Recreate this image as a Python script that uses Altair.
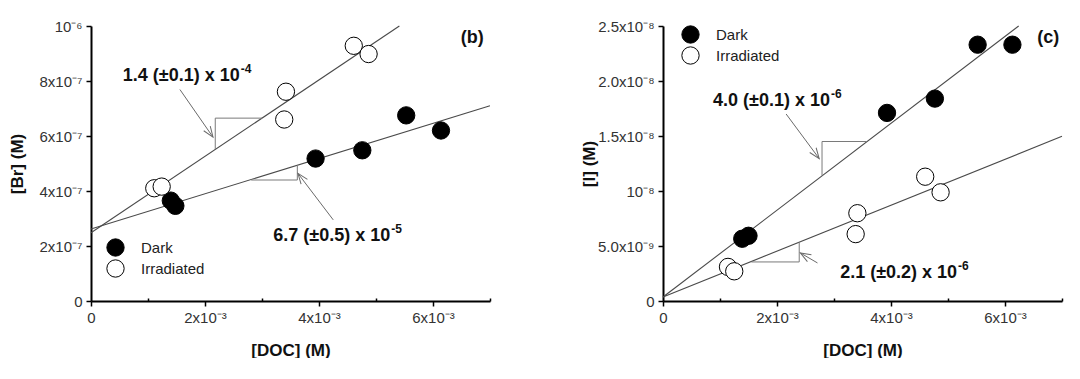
import math
import altair as alt
import pandas as pd

# ---------------- data ----------------
series_names = ["Dark", "Irradiated"]

# Panel (b): bromide
br_dark_x = [1.40e-3, 1.48e-3, 3.94e-3, 4.76e-3, 5.53e-3, 6.14e-3]
br_dark_y = [3.65e-7, 3.46e-7, 5.18e-7, 5.48e-7, 6.75e-7, 6.20e-7]
br_irr_x = [1.11e-3, 1.24e-3, 3.39e-3, 3.42e-3, 4.61e-3, 4.87e-3]
br_irr_y = [4.10e-7, 4.16e-7, 6.60e-7, 7.61e-7, 9.28e-7, 8.98e-7]
br_fit_dark = [(0.0, 2.62e-7), (7.0e-3, 7.10e-7)]
br_fit_irr = [(0.0, 2.48e-7), (5.41e-3, 1.0e-6)]
br_tri_irr = [(2.18e-3, 5.52e-7), (2.18e-3, 6.65e-7), (3.00e-3, 6.65e-7)]
br_tri_dark = [(2.81e-3, 4.40e-7), (3.62e-3, 4.40e-7), (3.62e-3, 4.94e-7)]
br_arrows = [((1.56e-3, 7.69e-7), (2.14e-3, 5.96e-7)),
             ((4.25e-3, 2.95e-7), (3.63e-3, 4.64e-7))]
br_slope_text = ["1.4 (±0.1) x 10", "6.7 (±0.5) x 10"]
br_slope_exp = ["-4", "-5"]
br_slope_xy = [(2.61e-3, 8.18e-7), (5.25e-3, 2.36e-7)]
br_panel_label = "(b)"
br_panel_xy = (6.69e-3, 9.58e-7)

# Panel (c): iodide
i_dark_x = [1.39e-3, 1.50e-3, 3.93e-3, 4.77e-3, 5.52e-3, 6.13e-3]
i_dark_y = [5.66e-9, 5.93e-9, 17.1e-9, 18.4e-9, 23.3e-9, 23.3e-9]
i_irr_x = [1.14e-3, 1.25e-3, 3.38e-3, 3.41e-3, 4.60e-3, 4.87e-3]
i_irr_y = [3.10e-9, 2.70e-9, 6.08e-9, 7.98e-9, 11.3e-9, 9.88e-9]
i_fit_dark = [(0.0, 0.36e-9), (6.24e-3, 25.0e-9)]
i_fit_irr = [(0.0, 0.36e-9), (7.0e-3, 14.97e-9)]
i_tri_dark = [(2.79e-3, 11.4e-9), (2.79e-3, 14.5e-9), (3.58e-3, 14.5e-9)]
i_tri_irr = [(1.55e-3, 3.55e-9), (2.39e-3, 3.55e-9), (2.39e-3, 5.35e-9)]
i_arrows = [((2.16e-3, 17.0e-9), (2.74e-3, 12.95e-9)),
            ((2.71e-3, 3.46e-9), (2.41e-3, 4.37e-9))]
i_slope_text = ["4.0 (±0.1) x 10", "2.1 (±0.2) x 10"]
i_slope_exp = ["-6", "-6"]
i_slope_xy = [(2.93e-3, 18.2e-9), (5.16e-3, 2.56e-9)]
i_panel_label = "(c)"
i_panel_xy = (6.76e-3, 23.9e-9)

# axes
x_domain = [0, 7e-3]
x_major = [0, 2e-3, 4e-3, 6e-3]
x_minor = [1e-3, 3e-3, 5e-3, 7e-3]
x_labels = ["0", "2x10⁻³", "4x10⁻³", "6x10⁻³"]

br_y_domain = [0, 1e-6]
br_y_major = [0, 2e-7, 4e-7, 6e-7, 8e-7, 1e-6]
br_y_minor = [1e-7, 3e-7, 5e-7, 7e-7, 9e-7]
br_y_labels = ["0", "2x10⁻⁷", "4x10⁻⁷", "6x10⁻⁷", "8x10⁻⁷", "10⁻⁶"]

i_y_domain = [0, 2.5e-8]
i_y_major = [0, 5e-9, 1e-8, 1.5e-8, 2e-8, 2.5e-8]
i_y_minor = [2.5e-9, 7.5e-9, 1.25e-8, 1.75e-8, 2.25e-8]
i_y_labels = ["0", "5.0x10⁻⁹", "10⁻⁸", "1.5x10⁻⁸", "2.0x10⁻⁸", "2.5x10⁻⁸"]

# ---------------- style ----------------
W, H = 399, 275
FONT = "Liberation Sans"
LINE_C = "#4a4a4a"
TRI_C = "#7a7a7a"
ARROW_C = "#6a6a6a"


def label_expr(values, labels, span):
    eps = span * 1e-6
    expr = "''"
    for v, l in reversed(list(zip(values, labels))):
        expr = f"abs(datum.value - ({v!r})) < {eps!r} ? '{l}' : ({expr})"
    return expr


def tick_size_expr(values, span):
    eps = span * 1e-6
    conds = " || ".join(f"abs(datum.value - ({v!r})) < {eps!r}" for v in values)
    return f"({conds}) ? 5 : -3"


def make_panel(dx, dy, ix, iy, fit_d, fit_i, tris, arrows, slope_text, slope_exp,
               slope_xy, panel_label, panel_xy,
               y_domain, y_major, y_minor, y_labels, y_title, legend_xy):
    xspan = x_domain[1] - x_domain[0]
    yspan = y_domain[1] - y_domain[0]
    xs = alt.Scale(domain=x_domain, nice=False, zero=False)
    ys = alt.Scale(domain=y_domain, nice=False, zero=False)

    x_axis = alt.Axis(
        values=sorted(x_major + x_minor),
        labelExpr=label_expr(x_major, x_labels, xspan),
        tickSize={"expr": tick_size_expr(x_major, xspan)},
        title="[DOC] (M)", titlePadding=17, labelPadding=4,
        labelFlush=False, labelOverlap=False,
    )
    y_axis = alt.Axis(
        values=sorted(y_major + y_minor),
        labelExpr=label_expr(y_major, y_labels, yspan),
        tickSize={"expr": tick_size_expr(y_major, yspan)},
        title=y_title, titleX=-65, titleY=H / 2, labelPadding=4,
        labelFlush=False, labelOverlap=False,
    )
    X = alt.X("x:Q", scale=xs, axis=x_axis)
    Y = alt.Y("y:Q", scale=ys, axis=y_axis)
    Xn = alt.X("x:Q", scale=xs)
    Yn = alt.Y("y:Q", scale=ys)

    # fit lines
    fit_rows = []
    for name, pts in zip(series_names, [fit_d, fit_i]):
        for k, (x, y) in enumerate(pts):
            fit_rows.append({"x": x, "y": y, "s": name, "o": k})
    fits = alt.Chart(pd.DataFrame(fit_rows)).mark_line(
        color=LINE_C, strokeWidth=1.1).encode(X, Y, detail="s:N", order="o:Q")

    # slope triangles
    tri_rows = []
    for t, pts in enumerate(tris):
        for k, (x, y) in enumerate(pts):
            tri_rows.append({"x": x, "y": y, "t": t, "o": k})
    tri = alt.Chart(pd.DataFrame(tri_rows)).mark_line(
        color=TRI_C, strokeWidth=1).encode(Xn, Yn, detail="t:N", order="o:Q")

    # arrows
    arr_rows, head_rows = [], []
    for a, (tail, tip) in enumerate(arrows):
        arr_rows.append({"x": tail[0], "y": tail[1], "a": a, "o": 0})
        arr_rows.append({"x": tip[0], "y": tip[1], "a": a, "o": 1})
        px = (tip[0] - tail[0]) / xspan * W
        py = -(tip[1] - tail[1]) / yspan * H
        ang = (math.degrees(math.atan2(py, px)) + 90) % 360
        head_rows.append({"x": tip[0], "y": tip[1], "ang": ang})
    shafts = alt.Chart(pd.DataFrame(arr_rows)).mark_line(
        color=ARROW_C, strokeWidth=1).encode(Xn, Yn, detail="a:N", order="o:Q")
    heads = alt.Chart(pd.DataFrame(head_rows)).mark_point(
        shape="M-0.38,1L0,0L0.38,1", filled=False, size=440,
        stroke=ARROW_C, strokeWidth=1, opacity=1,
    ).encode(Xn, Yn, angle=alt.Angle("ang:Q", scale=None))

    # data points
    pts_rows = []
    for x, y in zip(dx, dy):
        pts_rows.append({"x": x, "y": y, "series": "Dark"})
    for x, y in zip(ix, iy):
        pts_rows.append({"x": x, "y": y, "series": "Irradiated"})
    points = alt.Chart(pd.DataFrame(pts_rows)).mark_point(
        filled=True, size=300, stroke="black", strokeWidth=1, opacity=1,
        shape="circle",
    ).encode(
        Xn, Yn,
        fill=alt.Fill("series:N",
                      scale=alt.Scale(domain=series_names, range=["black", "white"]),
                      legend=alt.Legend(
                          title=None, orient="none",
                          legendX=legend_xy[0], legendY=legend_xy[1],
                          symbolType="circle", symbolSize=300,
                          symbolStrokeColor="black", symbolStrokeWidth=1,
                          labelFont=FONT, labelFontSize=15, labelColor="#222",
                          labelOffset=16, rowPadding=-2, padding=0,
                      )),
    )

    # slope annotations: base text ends at anchor, exponent starts there
    txt_rows = [{"x": p[0], "y": p[1], "t": t, "e": e}
                for t, e, p in zip(slope_text, slope_exp, slope_xy)]
    tdf = pd.DataFrame(txt_rows)
    base_txt = alt.Chart(tdf).mark_text(
        font=FONT, fontSize=18, fontWeight="bold", color="#111",
        align="right", baseline="middle",
    ).encode(Xn, Yn, text="t:N")
    exp_txt = alt.Chart(tdf).mark_text(
        font=FONT, fontSize=12, fontWeight="bold", color="#111",
        align="left", baseline="middle", dx=1, dy=-7,
    ).encode(Xn, Yn, text="e:N")
    plabel = alt.Chart(pd.DataFrame([{"x": panel_xy[0], "y": panel_xy[1],
                                      "t": panel_label}])).mark_text(
        font=FONT, fontSize=18, fontWeight="bold", color="#111",
        align="center", baseline="middle",
    ).encode(Xn, Yn, text="t:N")

    base = alt.Chart(pd.DataFrame(fit_rows)).mark_line(opacity=0).encode(X, Y)
    return alt.layer(base, fits, tri, shafts, heads, points, base_txt, exp_txt,
                     plabel).properties(width=W, height=H)


left = make_panel(br_dark_x, br_dark_y, br_irr_x, br_irr_y, br_fit_dark, br_fit_irr,
                  [br_tri_irr, br_tri_dark], br_arrows, br_slope_text, br_slope_exp,
                  br_slope_xy, br_panel_label, br_panel_xy,
                  br_y_domain, br_y_major, br_y_minor, br_y_labels, "[Br] (M)",
                  (15, 212))
right = make_panel(i_dark_x, i_dark_y, i_irr_x, i_irr_y, i_fit_dark, i_fit_irr,
                   [i_tri_dark, i_tri_irr], i_arrows, i_slope_text, i_slope_exp,
                   i_slope_xy, i_panel_label, i_panel_xy,
                   i_y_domain, i_y_major, i_y_minor, i_y_labels, "[I] (M)",
                   (18, -1))

chart = alt.hconcat(left, right, spacing=173, bounds="flush").resolve_scale(
    fill="independent"
).properties(
    padding={"left": 0, "top": 11, "right": 0, "bottom": 0},
    background="white",
).configure_view(stroke=None).configure_axis(
    grid=False, domainColor="black", domainWidth=2, tickColor="black",
    tickWidth=1.5, labelFont=FONT, labelFontSize=15, labelColor="#333",
    titleFont=FONT, titleFontSize=17, titleFontWeight="bold", titleColor="#111",
)

chart.save("out.html", embed_options={"renderer": "svg", "actions": False})
